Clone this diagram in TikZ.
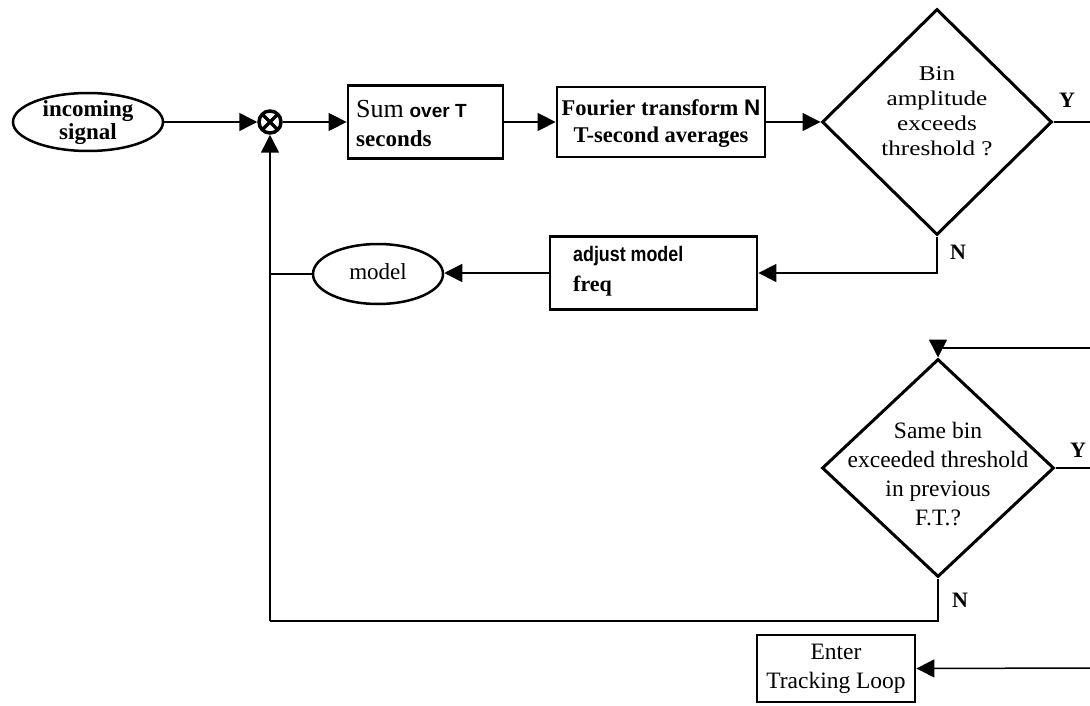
\documentclass[tikz,border=0pt]{standalone}
\usepackage{fontspec}
\setmainfont{Liberation Serif}
\setsansfont{Liberation Sans}
\newfontfamily\wideserif[FakeStretch=1.2]{Liberation Serif}
\newfontfamily\narrowsans[FakeStretch=0.85]{Liberation Sans}
\usetikzlibrary{shapes.geometric,arrows.meta}
\begin{document}
\begin{tikzpicture}[x=1pt,y=-1pt,
  box/.style={draw,line width=2.8pt,inner sep=0pt},
  oval/.style={draw,ellipse,line width=2.5pt,inner sep=0pt},
  dia/.style={draw,diamond,line width=3pt,inner sep=0pt},
  conn/.style={line width=1.5pt},
  arr/.style={conn,-{Triangle[length=18pt,width=18pt]}},
  txt/.style={inner sep=0pt,align=center,font=\fontsize{23}{23}\selectfont\bfseries},
  rtxt/.style={inner sep=0pt,align=center,font=\fontsize{23}{28}\selectfont},
  yn/.style={inner sep=0pt,font=\fontsize{22}{22}\selectfont\bfseries},
  mixer/.style={circle,draw,line width=3.5pt,minimum size=22pt,inner sep=0pt,
    path picture={\draw[line width=3.5pt]
      (path picture bounding box.north west) -- (path picture bounding box.south east)
      (path picture bounding box.north east) -- (path picture bounding box.south west);}}
]
\useasboundingbox (0,0) rectangle (1090,706);

% nodes
\node[oval,minimum width=150pt,minimum height=58pt] (inc) at (88,122) {};
\node[txt] (inct) at (88,123) {incoming\\signal};
\node[mixer] (mix) at (270,122) {};
\node[box,minimum width=155pt,minimum height=73pt] (sum) at (425.5,122) {};
\node[txt,align=left,anchor=west,font=\fontsize{23}{29}\selectfont\bfseries] (sumt) at (356,124)
  {{\fontsize{26}{26}\selectfont\mdseries Sum} {\sffamily\fontsize{19}{19}\selectfont over T}\\seconds};
\node[box,minimum width=208pt,minimum height=70pt] (four) at (661,122) {};
\node[txt,font=\fontsize{22.5}{27}\selectfont\bfseries] (fourt) at (661,124)
  {Fourier transform {\sffamily N}\\T-second averages};
\node[dia,minimum width=230pt,minimum height=226pt] (d1) at (937,122) {};
\node[rtxt,font=\fontsize{21}{25}\selectfont\wideserif] (d1t) at (937,111) {Bin\\amplitude\\exceeds\\threshold ?};
\node[yn] (y1) at (1067,100) {Y};
\node[yn] (n1) at (958,252) {N};
\coordinate (y1end) at (1090,122);

\node[box,minimum width=207pt,minimum height=73pt] (adj) at (653.5,273) {};
\node[txt,align=left,anchor=west,font=\fontsize{22}{30}\selectfont\bfseries] (adjt) at (573,271)
  {{\narrowsans\fontsize{21}{21}\selectfont adjust model}\\freq};
\node[oval,minimum width=130pt,minimum height=60pt] (mod) at (378,274) {};
\node[rtxt] (modt) at (378,272) {model};

\coordinate (r2) at (1090,348);
\node[dia,minimum width=232pt,minimum height=218pt] (d2) at (938,468) {};
\node[rtxt,font=\fontsize{23.5}{29}\selectfont] (d2t) at (938,474)
  {Same bin\\exceeded threshold\\in previous\\F.T.?};
\node[yn] (y2) at (1078,450) {Y};
\node[yn] (n2) at (960,600) {N};
\coordinate (y2end) at (1090,468);
\coordinate (n2corner) at (270,621);

\node[box,minimum width=158pt,minimum height=67pt] (ent) at (836,668.5) {};
\node[rtxt,font=\fontsize{23.5}{29}\selectfont] (entt) at (836,669) {Enter\\Tracking Loop};
\coordinate (r3) at (1090,668);

% connectors
\draw[arr] (inc.east) -- (mix.west);
\draw[arr] (mix.east) -- (sum.west);
\draw[arr] (sum.east) -- (four.west);
\draw[arr] (four.east) -- (d1.west);
\draw[conn] (d1.east) -- (y1end);
\draw[arr] (d1.south) |- (adj.east);
\draw[arr] (adj.west) -- (adj.west -| mod.east);
\draw[conn] (mod.west) -- (mod.west -| mix.south);
\draw[arr] (r2) -| (d2.north);
\draw[conn] (d2.east) -- (y2end);
\draw[conn] (d2.south) |- (n2corner);
\draw[arr] (n2corner) -- (mix.south);
\draw[arr] (r3) -- (ent.east);
\end{tikzpicture}
\end{document}
